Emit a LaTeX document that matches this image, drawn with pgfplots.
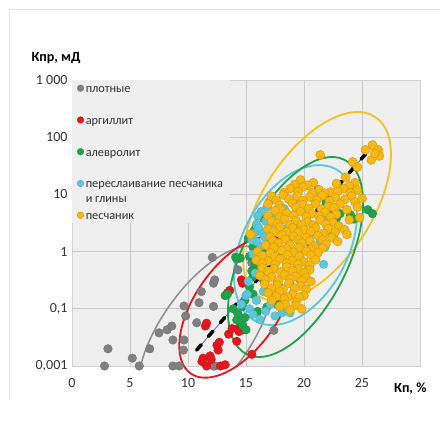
\documentclass[border=0pt]{standalone}
\usepackage{fontspec}
\setmainfont{Carlito}
\usepackage{pgfplots}
\pgfplotsset{compat=1.18}

\definecolor{plotbg}{HTML}{EFEFEF}
\definecolor{gridcol}{HTML}{C9C9C9}
\definecolor{framecol}{HTML}{D2D2D2}
\definecolor{outer}{HTML}{E2E2E2}
\definecolor{cGray}{HTML}{808080}
\definecolor{cRed}{HTML}{E3171C}
\definecolor{cGreen}{HTML}{1EA34A}
\definecolor{cCyan}{HTML}{5CC6DA}
\definecolor{cYellow}{HTML}{F6B90F}
\definecolor{cYellowEdge}{HTML}{D99A12}
\definecolor{eYellow}{HTML}{F2C21E}

\begin{document}
\begin{tikzpicture}
\useasboundingbox (-72pt,-63pt) rectangle (368pt,366pt);
\fill[white] (-72pt,-63pt) rectangle (368pt,366pt);
\draw[outer, line width=0.8pt] (-63pt,-34pt) -- (-63pt,357pt) -- (368pt,357pt);
\begin{axis}[
    scale only axis, width=348pt, height=286pt,
    xmin=0, xmax=30, ymode=log, ymin=0.01, ymax=1000,
    clip=false,
    axis background/.style={fill=plotbg},
    axis line style={draw=framecol, line width=0.8pt},
    grid=major, grid style={draw=gridcol, line width=0.8pt},
    yminorticks=false,
    tick style={draw=none},
    xtick={0,5,10,15,20,25}, xticklabels={0,5,10,15,20,25},
    ytick={0.01,0.1,1,10,100,1000},
    yticklabels={{0,001},{0,1},1,10,100,{1 000}},
    ticklabel style={font=\fontsize{14}{16}\selectfont, text=black!80},
    yticklabel style={xshift=-1pt},
    xticklabel style={yshift=-9pt},
    xlabel={\textbf{Кп, \%}},
    xlabel style={at={(rel axis cs:1,0)}, anchor=base east, xshift=10pt, yshift=-26pt,
                  font=\fontsize{14}{16}\selectfont},
    ylabel={\textbf{Кпр, мД}},
    ylabel style={at={(rel axis cs:0,1)}, rotate=-90, anchor=base west, xshift=-44pt, yshift=18pt,
                  font=\fontsize{14}{16}\selectfont},
    legend style={at={(rel axis cs:0,1)}, anchor=north west, fill=plotbg, draw=none,
                  font=\fontsize{12.3}{15}\selectfont, text=black!80,
                  inner xsep=5pt, inner ysep=0pt, row sep=15.75pt, column sep=0pt,
                  cells={anchor=west}},
    legend image code/.code={\draw[#1, mark size=3.3pt] plot coordinates {(0pt,0pt)};},
]

% плотные
\addplot[only marks, mark=*, mark size=4.3pt, color=cGray, mark options={fill=cGray, draw=cGray!90!black}]
coordinates {
(2.8,0.010) (3.1,0.020) (5.2,0.0137) (5.8,0.010) (6.7,0.020) (7.5,0.038)
(8.2,0.043) (8.6,0.050) (8.7,0.0285) (8.7,0.010) (9.25,0.010) (9.66,0.112)
(9.8,0.075) (9.6,0.019) (9.65,0.0285) (10.75,0.057) (10.95,0.128) (11.15,0.20)
(12.2,0.11) (12.2,0.28) (12.1,0.79) (12.3,0.32) (12.2,0.010) (14.3,0.48)
(14.2,0.74) (15.5,0.64) (17.4,0.042) (21.2,12) (22.4,4.4) (12.3,0.010)
};
\addlegendentry{\strut плотные}

% аргиллит
\addplot[only marks, mark=*, mark size=4.3pt, color=cRed, mark options={fill=cRed, draw=cRed!90!black}]
coordinates {
(11.5,0.050) (11.6,0.056) (11.3,0.0137) (11.2,0.012) (11.9,0.015) (12.5,0.023)
(12.6,0.019) (12.7,0.026) (13.2,0.0105) (13.5,0.036) (13.8,0.045) (14.3,0.045)
(14.5,0.048) (14.8,0.043) (14.2,0.027) (15.5,0.016) (13.6,0.21) (14.6,0.32)
(14.7,0.28) (11.6,0.010) (12.8,0.010) (14.4,0.040) (13.4,0.19) (12.0,0.013)
};
\addlegendentry{\strut аргиллит}

% алевролит
\addplot[only marks, mark=*, mark size=4.3pt, color=cGreen, mark options={fill=cGreen, draw=cGreen!90!black}]
coordinates {
(23.1,4.6) (24.0,4.4) (25.5,5.4) (25.9,4.6) (24.3,3.7) (21.9,7.5) (22.8,3.8)
(15.3,0.82) (15.8,0.55) (16.2,0.71) (16.6,0.48) (15.6,0.36) (16.5,0.32)
(15.3,0.24) (16.8,0.21) (13.2,0.17) (13.9,0.10) (14.3,0.082) (14.9,0.070)
(14.2,0.064) (14.7,0.052) (16.8,0.107) (17.7,0.12) (17.9,0.24) (13.4,0.18)
(14.7,0.11) (15.6,0.18) (14.5,0.77) (15.8,0.60) (15.5,0.46) (15.8,2.2)
(16.5,3.8) (15.6,1.2) (16.2,1.07) (14.1,0.80) (16.5,0.95) (15.0,0.043)
(20.6,1.3) (14.9,0.14) (16.0,0.09) (15.2,1.7) (16.9,1.4)
};
\addlegendentry{\strut алевролит}

% переслаивание песчаника и глины
\addplot[only marks, mark=*, mark size=4.3pt, color=cCyan, mark options={fill=cCyan, draw=cCyan!90!black}]
coordinates {
(14.6,0.12) (15.0,0.17) (15.3,0.10) (15.6,0.08) (15.9,0.14) (16.2,0.065)
(16.5,0.20) (16.7,0.09) (17.1,0.12) (17.5,0.075) (18.1,0.085) (18.5,0.10)
(15.2,0.30) (15.8,0.42) (16.3,0.60) (15.6,0.90) (15.9,1.5) (16.4,2.2)
(17.0,3.0) (17.6,4.2) (18.3,5.6) (18.7,1.6) (19.4,0.60) (19.6,0.33)
(20.4,0.50) (20.9,0.85) (21.4,1.5) (21.8,1.2) (22.3,2.2) (21.6,3.6)
(20.0,6.0) (20.9,8.5) (19.2,8.0) (16.8,6.0) (17.4,1.1) (18.6,2.6)
(21.7,0.60) (22.6,1.7) (19.6,3.0) (20.5,2.0) (18.8,0.085) (15.1,0.18)
(15.9,3.0) (16.3,5.0) (17.0,7.5) (15.5,1.6) (16.1,2.6) (16.6,1.8)
(16.3,1.25) (16.7,3.4) (16.0,4.2) (15.7,2.1)
};
\addlegendentry{\strut\raisebox{0pt}[\height][0pt]{\begin{tabular}[t]{@{}l@{}}переслаивание песчаника\\и глины\end{tabular}}}

% песчаник
\addplot[only marks, mark=*, mark size=4.5pt, color=cYellow, mark options={fill=cYellow, draw=cYellowEdge, line width=0.5pt}]
coordinates {
(25.9,73) (26.4,60) (26.5,47) (25.8,40) (25.3,60) (26.1,52) (21.4,49) (24.2,37) (24.6,30)
(19.7,17.9) (20.8,16) (23.6,20) (24.4,16)
(19.2,15) (20.3,14.5) (22.8,15.5) (23.9,14)
(18.8,12.6) (19.9,13.5) (21.3,12) (22.3,11) (23.4,12.6) (24.6,12)
(18.3,10.8) (19.5,11.2) (20.7,10.7) (21.8,10.5) (22.9,11.3) (24.0,10.6)
(17.2,9.3) (18.2,9.8) (19.4,9.3) (20.5,9.0) (21.6,9.5) (22.7,8.8) (24.1,9.3) (25.0,8.5)
(17.6,7.9) (18.7,8.2) (19.9,7.8) (21.1,8.0) (22.2,7.7) (23.5,8.1) (24.4,7.4)
(16.9,6.8) (17.9,6.5) (19.0,7.0) (19.9,6.6) (21.0,6.8) (22.1,6.2) (23.1,6.8) (24.6,6.0)
(18.0,5.6) (19.3,5.9) (20.4,5.7) (21.5,5.5) (22.6,5.9) (23.7,5.4)
(17.5,5.2) (18.5,4.7) (19.7,5.0) (20.7,4.6) (21.8,4.9) (22.8,4.5) (24.8,3.9)
(16.9,4.2) (17.9,4.0) (19.1,4.3) (20.2,4.1) (21.3,4.2) (22.3,4.0) (23.9,3.6)
(17.2,3.4) (18.3,3.7) (19.3,3.5) (20.3,3.3) (21.4,3.6) (22.5,3.2)
(17.7,3.1) (18.8,2.95) (19.8,3.0) (20.8,2.9) (21.9,3.0) (23.0,2.8)
(16.9,2.5) (17.9,2.7) (19.0,2.6) (20.0,2.4) (21.0,2.6) (22.1,2.5) (23.5,2.4)
(17.4,2.25) (18.5,2.2) (19.5,2.15) (20.6,2.25) (21.7,2.1) (22.7,2.2)
(17.1,1.8) (18.1,1.95) (19.1,1.85) (20.2,1.75) (21.2,1.9) (23.7,2.0) (15.4,2.0)
(17.3,1.55) (18.4,1.65) (19.5,1.6) (20.5,1.55) (21.6,1.6) (22.4,1.75)
(16.7,1.3) (17.8,1.4) (18.8,1.3) (19.8,1.4) (20.9,1.25) (21.9,1.35) (22.9,1.5)
(17.4,1.18) (18.5,1.12) (19.6,1.17) (20.6,1.1) (21.6,1.15)
(16.0,1.0) (17.1,0.95) (18.1,1.05) (19.1,0.98) (20.2,1.02) (21.2,0.95)
(16.4,0.85) (17.5,0.82) (18.6,0.87) (19.6,0.83) (20.6,0.86)
(15.9,0.71) (16.9,0.68) (17.9,0.74) (19.0,0.70) (20.0,0.66) (21.0,0.72)
(16.4,0.62) (17.5,0.60) (18.5,0.63) (19.5,0.60) (20.5,0.58)
(16.4,0.52) (17.4,0.50) (18.5,0.54) (19.5,0.50) (20.5,0.48)
(16.9,0.45) (18.0,0.44) (19.0,0.46) (20.0,0.43)
(16.2,0.38) (17.2,0.36) (18.3,0.39) (19.3,0.37) (20.2,0.35)
(16.7,0.32) (17.8,0.31) (18.8,0.33) (19.8,0.31)
(16.6,0.27) (17.7,0.26) (18.7,0.28) (19.7,0.25) (20.6,0.30)
(17.2,0.23) (18.2,0.22) (19.2,0.23) (20.2,0.22)
(16.9,0.19) (17.9,0.20) (19.0,0.18) (20.0,0.17)
(17.6,0.165) (18.6,0.16) (19.6,0.16)
(17.2,0.14) (18.3,0.15) (19.3,0.13)
(18.4,0.12) (19.3,0.115)
(17.9,0.11) (18.8,0.095) (19.8,0.10)
};
\addlegendentry{\strut песчаник}

% trend
\addplot[forget plot, color=blue!45!gray, line width=0.6pt] coordinates {(10.75,0.019) (26.1,78)};
\addplot[forget plot, black, line width=3.5pt, line cap=round, dash pattern=on 7pt off 11pt]
coordinates {(10.75,0.019) (26.1,78)};

% ellipses
\begin{scope}
\clip (rel axis cs:0,0) rectangle (rel axis cs:1,1);
\draw[cGray!90, line width=1.5pt, rotate around={55:(axis cs:11.55,0.0393)}]
  (axis cs:11.55,0.0393) ellipse [x radius=100pt, y radius=45pt];
\end{scope}
\draw[eYellow, line width=1.8pt, rotate around={57.1:(axis cs:21.12,6.15)}]
  (axis cs:21.12,6.15) ellipse [x radius=106.8pt, y radius=54.7pt];
\draw[cCyan, line width=1.8pt, rotate around={62.3:(axis cs:19.27,1.30)}]
  (axis cs:19.27,1.30) ellipse [x radius=86pt, y radius=52.8pt];
\draw[cGreen, line width=1.8pt, rotate around={63.3:(axis cs:19.27,0.805)}]
  (axis cs:19.27,0.805) ellipse [x radius=108.8pt, y radius=52.2pt];
\draw[cRed, line width=1.8pt, rotate around={55.2:(axis cs:14.22,0.1075)}]
  (axis cs:14.22,0.1075) ellipse [x radius=81pt, y radius=42pt];
\end{axis}
\end{tikzpicture}
\end{document}
